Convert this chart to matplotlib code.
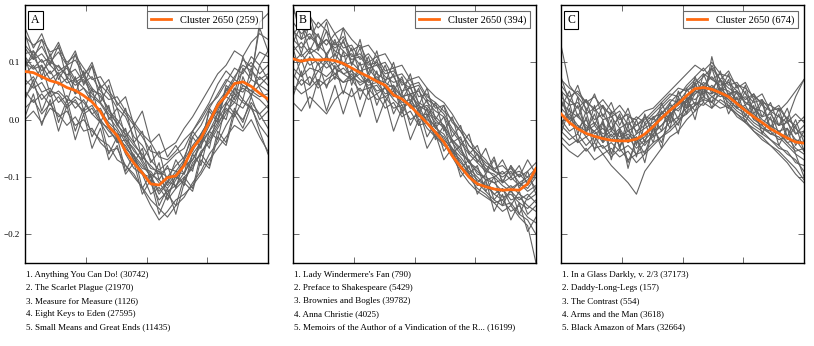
import matplotlib
matplotlib.use("Agg")
import matplotlib.pyplot as plt
import numpy as np

plt.rcParams['font.family'] = ['Liberation Serif', 'DejaVu Serif']
plt.rcParams['axes.unicode_minus'] = True

# centroid of each cluster (thousandths)
orange_a = [84, 82, 75, 68, 64, 56, 51, 42, 31, 14, -12, -28, -55, -76, -93,
            -112, -114, -101, -98, -80, -50, -32, -4, 25, 42, 63, 66, 58, 46, 36]
orange_b = [106, 102, 105, 104, 105, 103, 98, 90, 82, 75, 67, 60, 43, 36, 24,
            9, -6, -22, -39, -63, -82, -100, -112, -117, -121, -123, -122, -123, -112, -85]
orange_c = [10, -5, -16, -24, -29, -33, -36, -37, -37, -34, -25, -12, 3, 16, 28,
            42, 54, 56, 53, 47, 40, 28, 16, 5, -5, -16, -24, -32, -39, -41]

# member texts (thousandths)
gray_a = [
    [130, 112, 128, 101, 118, 95, 104, 80, 92, 60, 45, 20, 5, -30, -45, -70, -88, -75, -60, -50, -20, 5, 30, 62, 85, 70, 105, 92, 118, 110],
    [60, 75, 48, 55, 30, 42, 20, 35, 10, -5, -30, -25, -60, -85, -95, -130, -118, -140, -120, -105, -80, -60, -35, -10, 20, 5, 35, 20, 10, -15],
    [100, 88, 95, 70, 82, 64, 70, 55, 40, 28, 5, -15, -40, -62, -80, -98, -125, -108, -115, -92, -70, -45, -20, 10, 30, 55, 48, 70, 60, 75],
    [20, 35, 10, 28, 5, 15, -10, 0, -20, -35, -45, -70, -80, -100, -118, -140, -155, -170, -150, -135, -110, -90, -60, -40, -10, 15, 0, 30, 10, 25],
    [145, 130, 140, 118, 125, 100, 112, 90, 70, 75, 50, 30, 10, -10, -30, -55, -60, -50, -40, -15, 5, 30, 55, 80, 95, 120, 110, 135, 150, 140],
    [80, 95, 70, 85, 60, 72, 45, 55, 30, 15, -5, -20, -50, -65, -95, -100, -130, -110, -90, -95, -60, -40, -10, 20, 40, 30, 60, 50, 40, 45],
    [50, 30, 45, 25, 40, 20, 35, 10, 20, -5, -15, -40, -35, -65, -85, -90, -110, -130, -105, -80, -70, -40, -20, 0, 25, 45, 30, 20, -10, -30],
    [115, 120, 100, 108, 85, 95, 70, 80, 55, 40, 20, -10, -25, -45, -60, -85, -90, -100, -80, -65, -30, -10, 20, 45, 70, 60, 85, 100, 80, 95],
    [0, 15, -5, 20, 10, -10, 5, -20, -15, -40, -55, -50, -80, -95, -120, -150, -175, -160, -140, -130, -115, -95, -70, -50, -30, -10, -20, 0, -30, -55],
    [95, 110, 85, 100, 92, 78, 88, 65, 75, 50, 35, 40, 15, -5, -25, -40, -65, -70, -55, -35, -20, 0, 25, 40, 65, 90, 80, 110, 95, 120],
    [70, 55, 65, 40, 50, 35, 30, 15, 25, 0, -20, -35, -45, -70, -90, -110, -140, -125, -115, -100, -85, -55, -40, -15, 10, 40, 55, 45, 60, 50],
    [125, 105, 115, 95, 80, 90, 65, 75, 50, 45, 15, 0, -20, -40, -65, -80, -95, -85, -90, -70, -45, -25, 0, 30, 50, 75, 95, 85, 70, 80],
    [40, 60, 35, 50, 45, 25, 40, 30, 10, 20, -10, -25, -30, -55, -70, -95, -105, -120, -100, -110, -75, -60, -30, -5, 15, 30, 20, 45, 35, 20],
    [110, 90, 105, 80, 95, 75, 60, 70, 45, 30, 10, -5, -35, -50, -75, -100, -90, -115, -95, -75, -55, -25, 0, 15, 45, 70, 60, 50, 75, 60],
    [150, 105, 140, 95, 130, 70, 115, 60, 95, 30, 60, -10, 20, -40, -20, -75, -55, -110, -70, -95, -30, -50, 20, 0, 60, 45, 110, 75, 160, 120],
    [35, 70, 15, 50, -5, 35, -20, 20, -30, 0, -60, -30, -90, -60, -120, -95, -150, -120, -165, -110, -125, -70, -85, -30, -45, 10, -15, 25, -20, -60],
    [110, 60, 95, 45, 80, 30, 75, 15, 55, -5, 25, -40, -15, -75, -50, -110, -75, -140, -95, -115, -60, -80, -20, -35, 30, 10, 75, 40, 95, 70],
    [90, 120, 75, 115, 70, 95, 45, 85, 30, 60, 0, 20, -30, -10, -70, -45, -105, -80, -120, -70, -90, -25, -50, 15, 0, 55, 35, 90, 55, 30],
    [5, 45, -10, 35, -20, 25, -35, 10, -50, -15, -70, -45, -95, -75, -130, -105, -165, -130, -150, -100, -120, -60, -80, -20, -40, 20, -5, 40, 0, 15],
    [160, 125, 150, 110, 135, 95, 120, 75, 100, 55, 70, 25, 40, -10, 15, -40, -25, -65, -45, -70, -20, -40, 15, -5, 55, 35, 90, 70, 170, 185],
]
gray_b = [
    [150, 165, 140, 170, 155, 130, 145, 120, 130, 100, 110, 85, 90, 60, 70, 40, 45, 20, 25, -5, -20, -45, -60, -75, -85, -80, -95, -90, -100, -85],
    [80, 60, 75, 55, 70, 80, 65, 70, 50, 55, 35, 40, 20, 25, 0, 10, -15, -30, -40, -60, -85, -100, -120, -130, -145, -140, -160, -150, -170, -180],
    [120, 135, 115, 125, 140, 120, 110, 115, 95, 100, 80, 70, 75, 50, 55, 30, 20, 0, -15, -40, -60, -70, -95, -100, -110, -105, -120, -110, -125, -115],
    [30, 15, 40, 25, 10, 35, 50, 40, 55, 35, 45, 20, 30, 5, 15, -10, -5, -30, -45, -55, -80, -95, -110, -125, -140, -150, -145, -165, -175, -200],
    [190, 170, 180, 160, 175, 150, 160, 140, 125, 130, 110, 115, 90, 95, 70, 75, 55, 40, 30, 10, -15, -35, -55, -70, -90, -95, -85, -100, -90, -75],
    [100, 115, 95, 105, 90, 100, 80, 85, 70, 60, 65, 45, 50, 30, 35, 15, 0, -10, -35, -50, -75, -90, -105, -115, -130, -120, -140, -135, -150, -160],
    [140, 125, 145, 130, 115, 135, 120, 105, 110, 90, 95, 75, 65, 70, 45, 50, 30, 15, 5, -20, -40, -60, -75, -90, -95, -110, -100, -115, -105, -95],
    [60, 45, 55, 70, 60, 75, 65, 80, 60, 70, 50, 55, 35, 20, 30, 5, 10, -15, -25, -50, -65, -85, -100, -115, -120, -135, -130, -145, -155, -140],
    [110, 100, 120, 95, 110, 90, 100, 70, 80, 55, 60, 40, 50, 25, 30, 0, 5, -25, -40, -65, -90, -110, -125, -135, -145, -160, -150, -170, -185, -250],
    [170, 150, 160, 145, 130, 150, 125, 130, 105, 115, 95, 100, 75, 80, 60, 65, 40, 30, 15, 0, -20, -45, -60, -80, -90, -100, -90, -110, -100, -120],
    [90, 75, 90, 85, 100, 80, 90, 75, 65, 70, 45, 55, 40, 45, 20, 25, -5, -20, -30, -55, -70, -95, -115, -110, -130, -140, -125, -140, -130, -145],
    [130, 110, 125, 115, 100, 115, 95, 100, 85, 90, 70, 65, 55, 40, 45, 20, 25, 5, -10, -35, -55, -75, -90, -105, -100, -115, -125, -110, -120, -100],
    [50, 70, 60, 85, 75, 90, 80, 70, 85, 65, 75, 55, 60, 40, 45, 25, 15, -5, -10, -35, -50, -75, -85, -105, -110, -125, -115, -130, -140, -130],
    [155, 140, 150, 130, 140, 125, 135, 110, 115, 95, 100, 80, 85, 65, 55, 60, 35, 25, 10, -15, -35, -55, -70, -85, -100, -90, -105, -95, -110, -90],
    [200, 140, 185, 125, 170, 110, 160, 95, 140, 80, 120, 65, 100, 45, 80, 25, 55, 0, 25, -30, -10, -60, -45, -90, -65, -110, -80, -120, -90, -130],
    [40, 85, 20, 70, 15, 60, 10, 55, 5, 50, -5, 35, -20, 20, -35, 0, -50, -25, -70, -50, -100, -80, -130, -105, -160, -130, -175, -145, -195, -170],
    [125, 75, 110, 60, 115, 70, 120, 60, 100, 45, 85, 30, 60, 10, 45, -10, 20, -35, -10, -60, -45, -95, -80, -125, -100, -150, -120, -165, -135, -120],
    [160, 115, 170, 120, 155, 100, 140, 95, 125, 75, 105, 55, 80, 35, 60, 10, 35, -15, 5, -40, -30, -75, -60, -95, -70, -110, -80, -100, -70, -95],
    [70, 105, 60, 100, 55, 95, 45, 90, 35, 75, 25, 60, 10, 40, -10, 20, -30, -5, -55, -35, -85, -70, -110, -95, -140, -120, -150, -125, -165, -150],
    [135, 165, 120, 150, 110, 140, 95, 125, 80, 110, 65, 95, 50, 75, 30, 55, 5, 30, -20, 5, -45, -25, -75, -50, -90, -70, -100, -80, -115, -95],
]
gray_c = [
    [130, 60, 40, 20, 0, 10, -15, 5, -20, -10, 0, 15, 30, 45, 40, 60, 75, 90, 70, 80, 60, 65, 45, 30, 35, 15, 20, 0, -10, 5],
    [40, 25, 30, 10, 20, 0, 5, -15, -5, -20, -10, 5, 10, 30, 45, 55, 70, 60, 75, 55, 50, 35, 40, 20, 5, 10, -10, -5, -25, -20],
    [-20, -35, -25, -45, -30, -50, -40, -55, -45, -60, -40, -30, -20, -5, 5, 20, 30, 25, 40, 30, 20, 10, -5, -15, -25, -35, -45, -60, -70, -90],
    [30, 15, 5, -10, -20, -5, -30, -15, -40, -25, -15, -5, 10, 25, 15, 35, 50, 65, 55, 70, 45, 50, 30, 20, 0, -10, -20, -15, -35, -40],
    [-40, -55, -65, -50, -70, -60, -80, -95, -110, -130, -90, -70, -50, -30, -20, 0, 15, 30, 20, 35, 25, 10, 0, -20, -30, -45, -55, -70, -85, -105],
    [70, 55, 45, 30, 40, 20, 10, 25, 5, 0, 15, 20, 35, 50, 65, 80, 95, 85, 100, 80, 75, 60, 55, 40, 30, 25, 15, 30, 50, 70],
    [0, -20, -10, -30, -20, -40, -25, -45, -30, -50, -35, -20, -10, 10, 20, 35, 45, 60, 50, 40, 45, 30, 15, 5, -15, -20, -35, -30, -50, -60],
    [20, 5, -15, 0, -25, -15, -35, -20, -40, -30, -45, -25, -10, 5, 30, 20, 45, 55, 40, 50, 35, 20, 25, 0, -10, -25, -20, -40, -55, -50],
    [-10, -25, -40, -30, -50, -45, -65, -50, -70, -60, -55, -40, -30, -15, 0, 10, 25, 35, 30, 20, 25, 5, -5, -20, -35, -45, -60, -75, -95, -110],
    [50, 35, 20, 35, 15, 25, 5, 15, -10, 5, -5, 10, 25, 40, 55, 50, 65, 80, 70, 60, 65, 50, 35, 45, 25, 15, 5, -5, 10, -5],
    [10, -5, 10, -15, -5, -25, -15, -30, -20, -35, -25, -15, 5, 15, 25, 40, 35, 50, 45, 55, 40, 30, 20, 10, -5, -15, -25, -40, -35, -55],
    [-30, -45, -35, -55, -40, -60, -50, -65, -55, -75, -60, -45, -30, -20, -5, 15, 25, 40, 30, 45, 30, 15, 5, -10, -20, -35, -50, -55, -75, -80],
    [60, 40, 50, 30, 20, 35, 15, 0, 10, -10, 5, 0, 20, 35, 30, 50, 60, 75, 90, 70, 55, 45, 30, 20, 15, 0, -10, 5, -15, -30],
    [-5, 10, -10, -20, -10, -30, -20, -35, -25, -40, -30, -10, 0, 20, 35, 30, 50, 45, 60, 45, 35, 20, 10, -5, -15, -25, -30, -45, -60, -70],
    [55, -10, 40, -25, 25, -40, 15, -50, 5, -45, 10, -30, 30, -5, 50, 20, 75, 40, 90, 45, 70, 20, 50, 0, 30, -20, 10, -35, -10, -55],
    [-25, 20, -40, 5, -55, -5, -70, -15, -85, -30, -75, -10, -50, 15, -25, 40, 0, 60, 20, 55, 10, 40, -5, 25, -25, 5, -45, -15, -60, -100],
    [35, 0, 25, -20, 10, -35, 0, -50, -10, -65, -5, -40, 15, -15, 40, 10, 65, 30, 110, 50, 80, 25, 60, 10, 35, -15, 20, -30, 0, -40],
    [-15, 30, -25, 15, -40, 0, -60, -20, -75, -35, -60, -15, -40, 10, -10, 35, 15, 55, 30, 70, 20, 50, 5, 35, -10, 15, -25, 0, -45, -20],
    [20, 50, 5, 35, -10, 25, -20, 10, -35, 0, -40, 5, -20, 30, 0, 55, 25, 80, 45, 85, 40, 60, 25, 45, 5, 30, -10, 20, -25, -10],
    [75, 30, 60, 15, 45, 5, 30, -10, 20, -25, 5, -15, 15, 0, 35, 25, 60, 45, 95, 70, 85, 55, 65, 35, 45, 15, 25, 0, 40, 70],
]

panel_letters = ['A', 'B', 'C']
cluster_sizes = [259, 394, 674]
cluster_id = 2650

titles_a = ["Anything You Can Do! (30742)", "The Scarlet Plague (21970)",
            "Measure for Measure (1126)", "Eight Keys to Eden (27595)",
            "Small Means and Great Ends (11435)"]
titles_b = ["Lady Windermere's Fan (790)", "Preface to Shakespeare (5429)",
            "Brownies and Bogles (39782)", "Anna Christie (4025)",
            "Memoirs of the Author of a Vindication of the R... (16199)"]
titles_c = ["In a Glass Darkly, v. 2/3 (37173)", "Daddy-Long-Legs (157)",
            "The Contrast (554)", "Arms and the Man (3618)",
            "Black Amazon of Mars (32664)"]

fig = plt.figure(figsize=(8.14, 3.46), dpi=100)
lefts = [25, 293, 561]
width = 243

for k, (orange, grays, titles) in enumerate(zip([orange_a, orange_b, orange_c],
                                               [gray_a, gray_b, gray_c],
                                               [titles_a, titles_b, titles_c])):
    ax = fig.add_axes([lefts[k] / 814, 1 - 263 / 346, width / 814, 258 / 346])
    for g in grays:
        xs = np.linspace(0, 100, len(g))
        ax.plot(xs, np.array(g) / 1000, color='#626262', lw=0.8, zorder=1)
    xo = np.linspace(0, 100, len(orange))
    ax.plot(xo, np.array(orange) / 1000, color='#ff6a10', lw=2,
            label='Cluster %d (%d)' % (cluster_id, cluster_sizes[k]), zorder=3)
    ax.set_xlim(0, 100)
    ax.set_ylim(-0.25, 0.2)
    ax.set_xticks([25, 50, 75])
    ax.set_xticklabels([])
    ax.set_yticks([-0.2, -0.1, 0.0, 0.1])
    ax.tick_params(direction='in', top=True, right=True, length=4, width=0.6,
                   color='#555555', labelsize=6.5)
    if k == 0:
        ax.set_yticklabels(['\u22120.2', '\u22120.1', '0.0', '0.1'])
    else:
        ax.set_yticklabels([])
    for s in ax.spines.values():
        s.set_linewidth(1.0)
    leg = ax.legend(loc='upper right', fontsize=7.5, frameon=True, fancybox=False,
                    handlelength=2.0, borderpad=0.35, borderaxespad=0.6)
    leg.get_frame().set_edgecolor('#444444')
    leg.get_frame().set_linewidth(0.8)
    ax.text(0.025, 0.965, panel_letters[k], transform=ax.transAxes, fontsize=8.5,
            va='top', ha='left',
            bbox=dict(boxstyle='square,pad=0.25', fc='white', ec='black', lw=0.8))
    for j, t in enumerate(titles):
        fig.text((lefts[k] + 1) / 814, 1 - (275 + 13 * j) / 346,
                 '%d. %s' % (j + 1, t), fontsize=6.5, va='center', ha='left')

fig.savefig('out.png', dpi=100)
